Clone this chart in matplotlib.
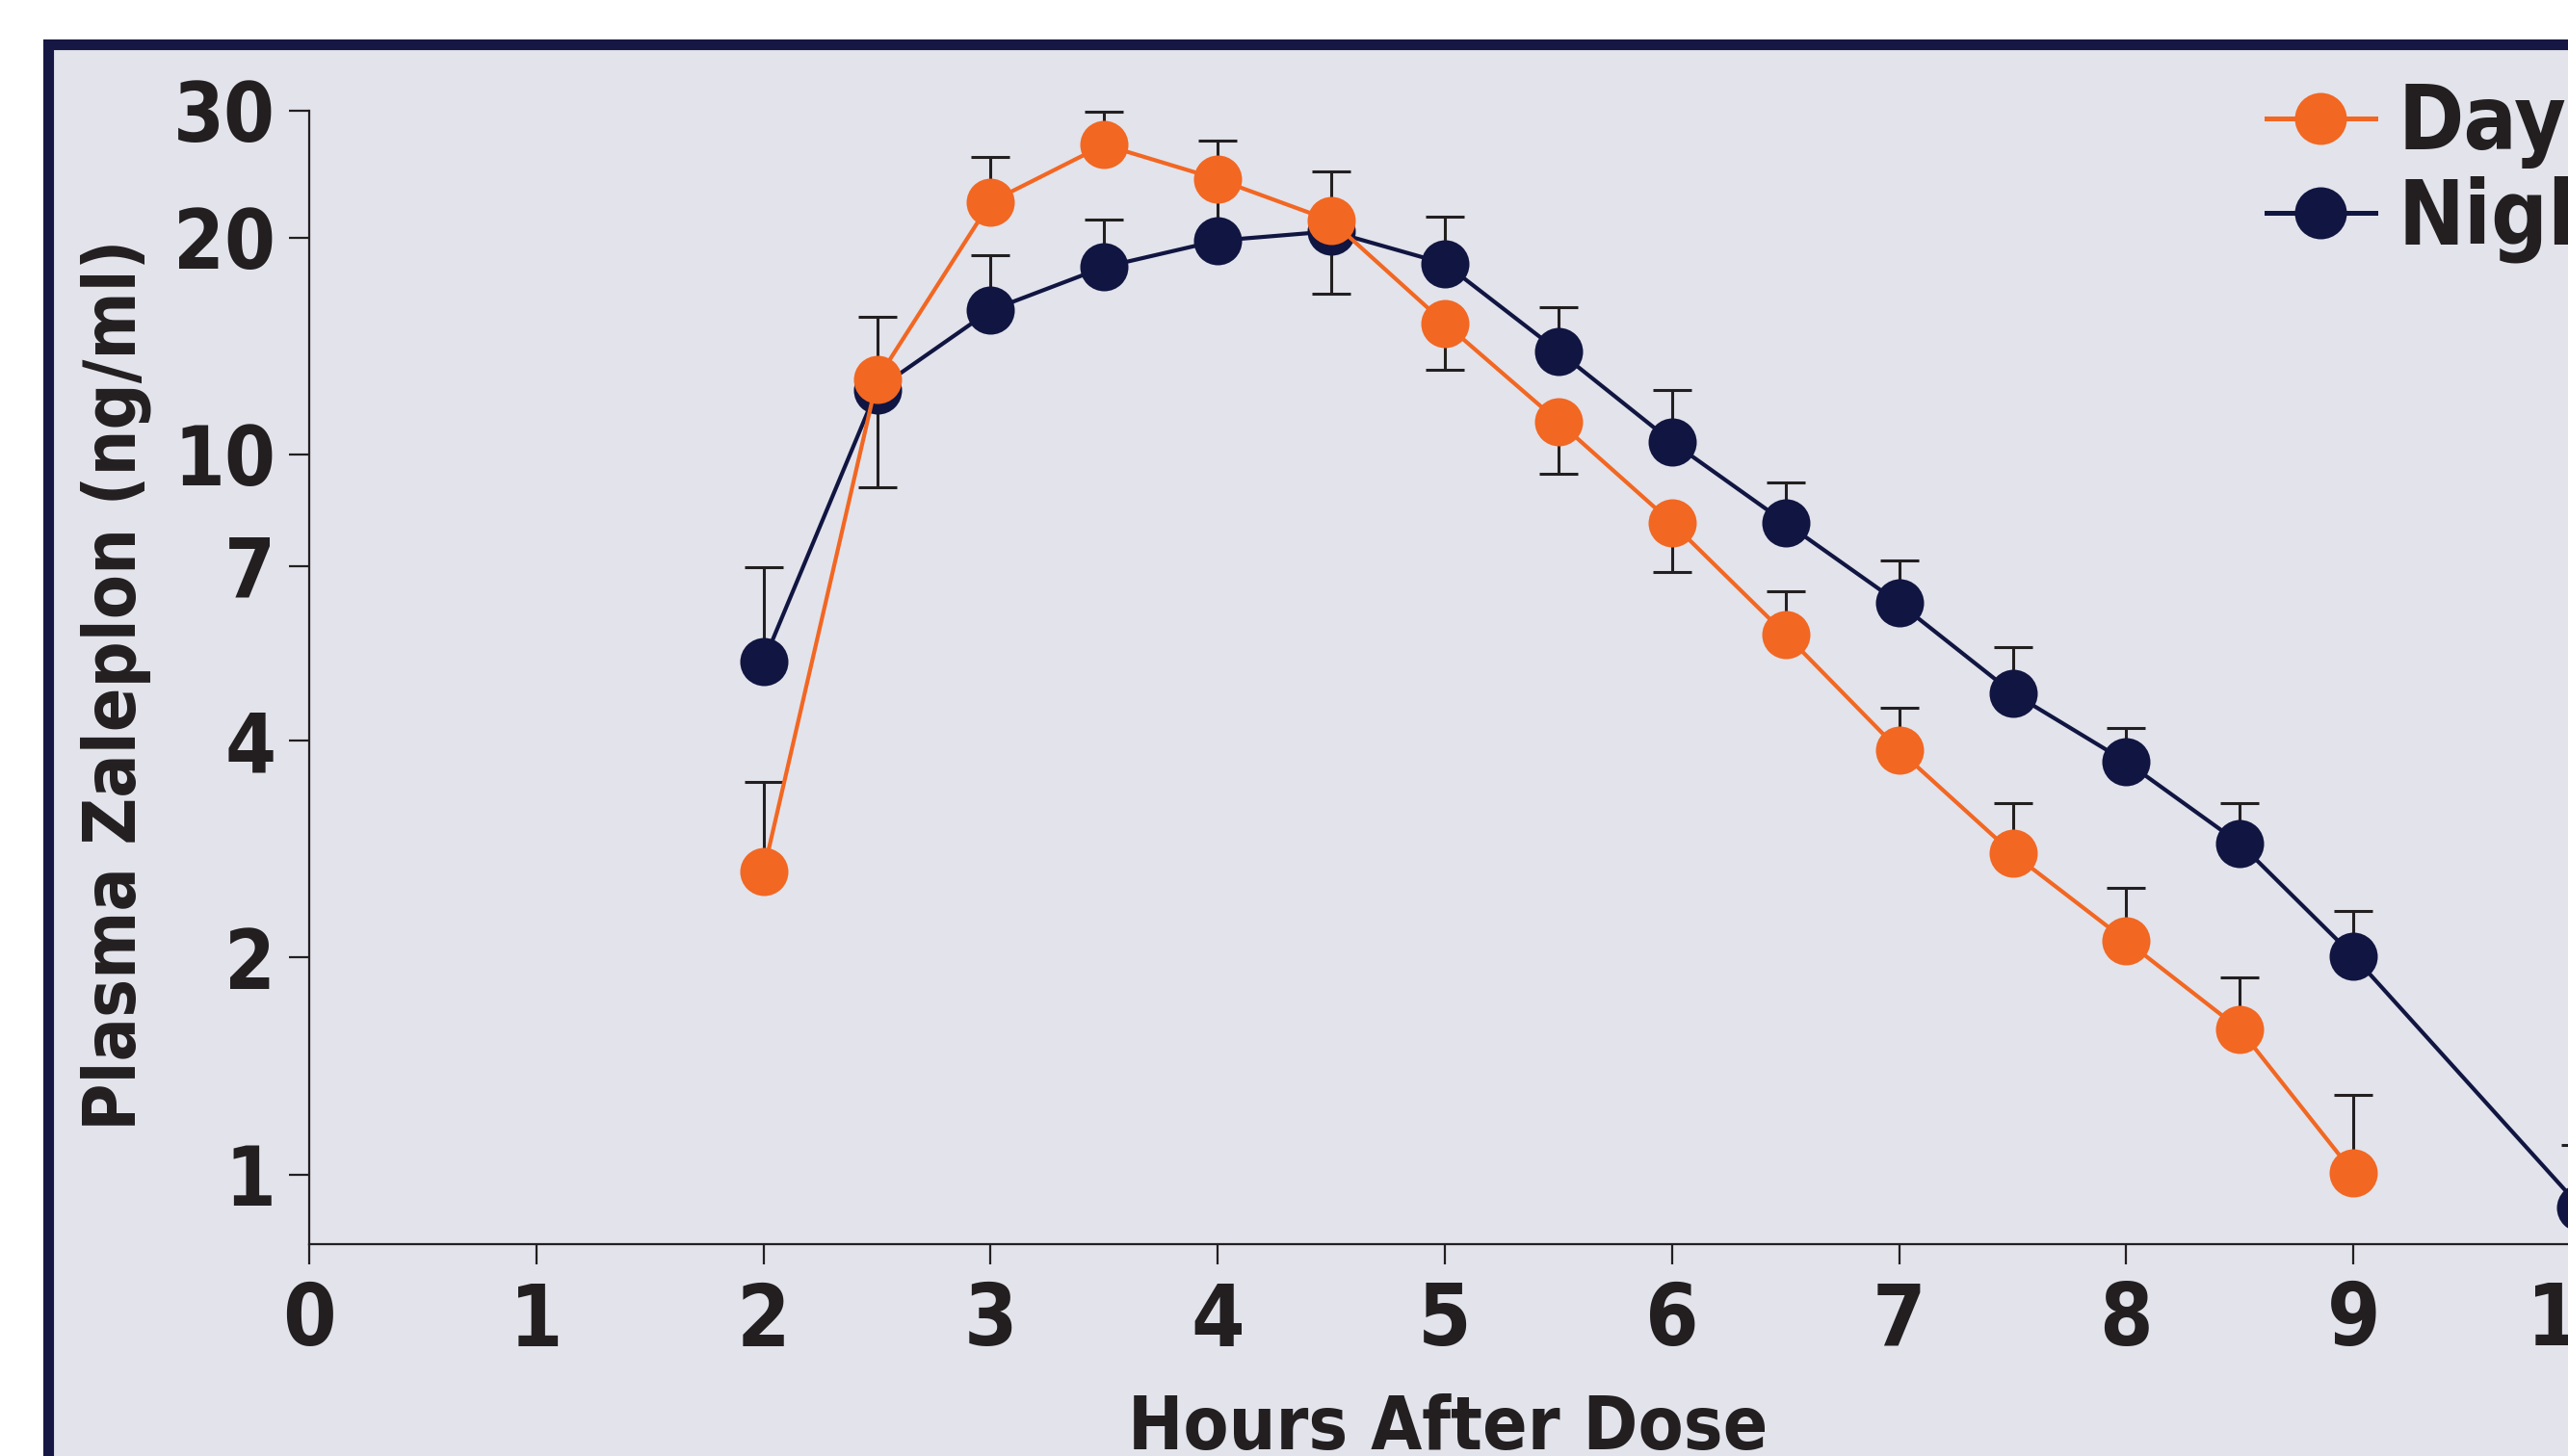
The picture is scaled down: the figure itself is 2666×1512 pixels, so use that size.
import matplotlib.pyplot as plt
from matplotlib.patches import Rectangle
import numpy as np

# plasma zaleplon concentration after a day-time vs night-time dose

hours_day = [2, 2.5, 3, 3.5, 4, 4.5, 5, 5.5, 6, 6.5, 7, 7.5, 8, 8.5, 9]
day_mean = [2.63, 12.7, 22.4, 26.9, 24.1, 21.1, 15.2, 11.1, 8.03, 5.62, 3.88, 2.79, 2.11, 1.59, 1.005]
day_err_up = [0.88, 2.8, 3.5, 3.0, 3.2, 3.6, 0, 0, 0, 0.83, 0.56, 0.49, 0.39, 0.29, 0.285]
day_err_down = [0, 0, 0, 0, 0, 0, 2.1, 1.71, 1.17, 0, 0, 0, 0, 0, 0]

hours_night = [2, 2.5, 3, 3.5, 4, 4.5, 5, 5.5, 6, 6.5, 7, 7.5, 8, 8.5, 9, 10]
night_mean = [5.15, 12.3, 15.85, 18.2, 19.8, 20.4, 18.4, 13.9, 10.4, 8.03, 6.21, 4.66, 3.74, 2.88, 2.01, 0.90]
night_err_up = [1.82, 0, 3.05, 3.0, 3.7, 0, 3.0, 2.1, 1.9, 1.12, 0.91, 0.73, 0.43, 0.40, 0.31, 0.20]
night_err_down = [0, 3.3, 0, 0, 0, 3.7, 0, 0, 0, 0, 0, 0, 0, 0, 0, 0]

x_ticks = list(range(11))
y_ticks = [1, 2, 4, 7, 10, 20, 30]

ORANGE = '#F26722'
NAVY = '#111541'
INK = '#231F20'
PANEL = '#E2E3EB'

plt.rcParams['font.family'] = 'DejaVu Sans'
plt.rcParams['font.stretch'] = 'condensed'
plt.rcParams['font.weight'] = 'bold'

W, H = 2666, 1512
fig = plt.figure(figsize=(W / 100, H / 100), dpi=100)
fig.patch.set_facecolor('white')

# panel background with a thick navy frame
frame = Rectangle((50.5 / W, -0.2), 1.2, 1.2 - 45.5 / H,
                  transform=fig.transFigure, facecolor=PANEL,
                  edgecolor='#171744', linewidth=8, zorder=-10)
fig.patches.append(frame)

ax = fig.add_axes([321 / W, 220 / H, 2476 / W, 1198 / H])
ax.set_facecolor('none')
ax.set_yscale('log')
ax.set_xlim(0, 10.5)
ax.set_ylim(0.8, 32)

ax.errorbar(hours_night, night_mean, yerr=[night_err_down, night_err_up], fmt='none',
            ecolor=INK, elinewidth=2.2, capsize=14.5, capthick=2.2, zorder=1)
ax.errorbar(hours_day, day_mean, yerr=[day_err_down, day_err_up], fmt='none',
            ecolor=INK, elinewidth=2.2, capsize=14.5, capthick=2.2, zorder=1)

ax.plot(hours_night, night_mean, '-o', color=NAVY, lw=3.0, ms=36, mew=0,
        label='Night', zorder=2, clip_on=False)
ax.plot(hours_day, day_mean, '-o', color=ORANGE, lw=3.0, ms=36, mew=0,
        label='Day', zorder=3, clip_on=False)

ax.set_xticks(x_ticks)
ax.set_xticklabels([str(t) for t in x_ticks])
ax.set_yticks(y_ticks)
ax.set_yticklabels([str(t) for t in y_ticks])
ax.yaxis.set_minor_locator(plt.NullLocator())

for side in ['top', 'right']:
    ax.spines[side].set_visible(False)
for side in ['left', 'bottom']:
    ax.spines[side].set_linewidth(1.6)
    ax.spines[side].set_color(INK)
ax.spines['left'].set_bounds(0.8, 30)

ax.tick_params(axis='both', direction='out', length=15, width=1.6, color=INK, labelcolor=INK)
ax.tick_params(axis='x', labelsize=64, pad=12)
ax.tick_params(axis='y', labelsize=61, pad=10)

ax.set_xlabel('Hours After Dose', fontsize=55, fontweight='bold', color=INK, va='top')
ax.xaxis.set_label_coords(0.4774, -0.129)
ax.set_ylabel('Plasma Zaleplon (ng/ml)', fontsize=54, fontweight='bold', color=INK, va='center')
ax.yaxis.set_label_coords(-0.081, 0.4845)

handles, labels = ax.get_legend_handles_labels()
leg = ax.legend(handles[::-1], labels[::-1], loc='upper left',
                bbox_to_anchor=(2353 / W, 1 - 84 / H), bbox_transform=fig.transFigure,
                frameon=False, borderpad=0, borderaxespad=0, fontsize=66,
                handlelength=1.23, handletextpad=0.26, labelspacing=0.08,
                markerscale=1.08)
for t in leg.get_texts():
    t.set_color(INK)
for h in leg.get_lines():
    h.set_linewidth(3.6)

fig.savefig('out.png', dpi=100)
